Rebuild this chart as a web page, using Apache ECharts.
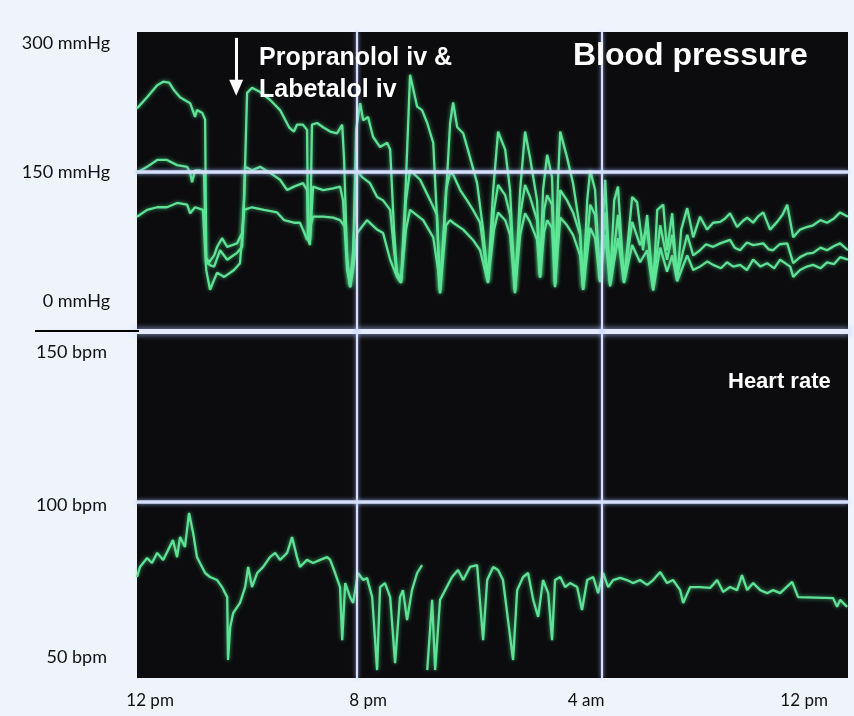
<!DOCTYPE html>
<html>
<head>
<meta charset="utf-8">
<script src="https://cdn.jsdelivr.net/npm/echarts@6/dist/echarts.min.js"></script>
<style>
  html, body { margin: 0; padding: 0; background: #eef3fc; }
  #chart { width: 854px; height: 716px; }
</style>
</head>
<body>
<div id="chart"></div>
<script>
// ---- axis ticks / labels ----
const tickHours = [0, 8, 16, 24];
const tickLabels = ['12 pm', '8 pm', '4 am', '12 pm'];
const bpTicks = [0, 150, 300];
const hrTicks = [50, 100, 150];
// monitor reference lines (as seen on the screen)
const monitorGridHours = [7.6, 16.59];
const bpGridLine = 150;
const hrGridLine = 101;
// drug administration marker (hours after 12 pm)
const drugTime = 3.16;

// ---- blood pressure (mmHg) [hours, value] ----
const systolic = [
  [-0.48,224],[-0.11,237],[0.26,251],[0.48,255],[0.70,254],[0.88,245],[1.10,237],[1.47,230],[1.65,214],[1.72,222],
  [1.91,219],[2.02,211],[2.06,50],[2.17,45],[2.35,53],[2.46,63],[2.64,73],[2.83,63],[3.01,65],[3.19,67],
  [3.38,79],[3.45,117],[3.56,242],[3.74,248],[4.04,243],[4.40,234],[4.77,222],[5.10,202],[5.28,197],[5.39,205],
  [5.61,205],[5.76,199],[5.80,71],[5.87,65],[5.94,205],[6.13,207],[6.35,202],[6.61,197],[6.86,195],[7.05,205],
  [7.12,164],[7.23,48],[7.34,16],[7.45,48],[7.56,199],[7.71,230],[7.82,210],[8.00,214],[8.18,191],[8.44,179],
  [8.70,184],[8.81,176],[8.95,83],[9.06,33],[9.21,24],[9.36,117],[9.54,263],[9.80,226],[9.98,222],[10.17,207],
  [10.39,184],[10.53,94],[10.64,9],[10.79,83],[11.01,207],[11.12,231],[11.27,202],[11.49,195],[11.74,167],[12.00,137],
  [12.22,83],[12.40,24],[12.59,129],[12.77,197],[13.03,176],[13.21,129],[13.39,9],[13.58,129],[13.76,197],[13.94,167],
  [14.20,117],[14.31,28],[14.42,129],[14.57,170],[14.75,144],[14.86,19],[14.97,141],[15.05,197],[15.30,167],[15.52,137],
  [15.78,83],[15.89,13],[16.04,117],[16.15,152],[16.33,129],[16.51,24],[16.70,141],[16.88,19],[17.03,117],[17.17,133],
  [17.39,22],[17.69,121],[17.87,115],[18.09,59],[18.24,100],[18.46,13],[18.61,106],[18.83,112],[18.97,59],[19.16,102],
  [19.34,24],[19.49,83],[19.71,108],[19.93,74],[20.18,98],[20.44,83],[20.66,91],[20.92,92],[21.10,96],[21.28,102],[21.54,86],
  [21.75,93],[21.91,97],[22.13,91],[22.30,98],[22.50,103],[22.75,83],[23.01,92],[23.20,100],[23.38,112],[23.60,74],[23.85,83],[24.10,86],[24.33,88],[24.60,94],[24.84,91],
  [25.10,96],[25.32,103],[25.61,98]
];
const meanBP = [
  [-0.48,149],[-0.11,156],[0.26,164],[0.62,164],[0.99,158],[1.36,156],[1.47,149],[1.54,138],[1.65,152],[1.83,152],
  [1.98,147],[2.06,45],[2.24,41],[2.35,40],[2.57,59],[2.83,48],[3.01,52],[3.19,56],[3.38,63],[3.49,156],
  [3.74,152],[4.04,156],[4.40,149],[4.77,141],[5.03,129],[5.28,133],[5.61,137],[5.76,129],[5.80,77],[5.87,71],
  [5.98,133],[6.35,129],[6.72,131],[6.97,133],[7.08,117],[7.23,36],[7.34,19],[7.45,59],[7.60,152],[7.78,144],
  [8.07,137],[8.33,121],[8.55,117],[8.81,106],[8.95,59],[9.06,30],[9.21,22],[9.39,117],[9.54,152],[9.91,141],
  [10.28,117],[10.53,100],[10.64,13],[10.86,129],[11.01,149],[11.12,147],[11.38,129],[11.63,117],[11.85,106],[12.11,91],
  [12.40,22],[12.62,106],[12.77,135],[13.03,123],[13.21,100],[13.39,13],[13.58,100],[13.76,135],[13.94,121],[14.20,94],
  [14.31,28],[14.46,106],[14.57,123],[14.75,112],[14.86,19],[15.05,129],[15.30,117],[15.52,103],[15.78,77],[15.89,15],
  [16.15,112],[16.33,100],[16.51,24],[16.70,103],[16.88,21],[17.17,100],[17.39,24],[17.69,92],[17.98,65],[18.24,83],
  [18.46,19],[18.72,88],[18.97,48],[19.16,77],[19.34,30],[19.71,77],[19.93,53],[20.18,59],[20.40,66],[20.66,63],[20.92,67],
  [21.28,71],[21.45,62],[21.65,59],[21.90,68],[22.13,65],[22.50,67],[22.70,60],[22.86,59],[23.10,66],[23.38,67],[23.60,44],[23.85,51],[24.10,55],[24.33,56],[24.60,62],[24.84,59],
  [25.10,64],[25.32,67],[25.61,59]
];
const diastolic = [
  [-0.48,98],[-0.11,106],[0.26,109],[0.62,109],[0.99,114],[1.36,112],[1.47,102],[1.65,109],[1.94,106],[2.06,36],
  [2.20,13],[2.46,33],[2.72,28],[3.08,36],[3.30,44],[3.45,106],[3.74,109],[4.18,106],[4.66,103],[4.92,94],
  [5.28,91],[5.50,91],[5.69,77],[5.76,71],[5.98,98],[6.35,98],[6.72,97],[6.97,94],[7.16,86],[7.27,36],
  [7.34,16],[7.45,36],[7.60,79],[7.96,94],[8.33,83],[8.55,79],[8.81,48],[9.06,28],[9.21,21],[9.39,83],
  [9.54,106],[10.02,94],[10.39,74],[10.57,36],[10.64,9],[10.86,88],[11.01,94],[11.12,91],[11.49,83],[11.85,71],
  [12.11,59],[12.40,21],[12.62,83],[12.77,103],[13.03,94],[13.21,77],[13.39,10],[13.58,77],[13.76,102],[13.94,92],
  [14.20,71],[14.31,27],[14.46,80],[14.57,94],[14.75,85],[14.86,16],[15.05,97],[15.30,88],[15.52,77],[15.78,53],
  [15.89,13],[16.15,85],[16.33,73],[16.51,22],[16.70,77],[16.88,17],[17.17,73],[17.39,21],[17.69,65],[17.98,45],
  [18.24,59],[18.46,12],[18.72,62],[18.97,34],[19.16,53],[19.34,23],[19.71,53],[19.93,36],[20.18,40],[20.45,46],[20.66,42],
  [20.95,38],[21.17,45],[21.40,40],[21.65,42],[21.90,36],[22.13,48],[22.40,40],[22.64,44],[22.90,38],[23.12,48],[23.49,40],[23.60,28],[23.85,36],[24.10,40],[24.33,42],[24.60,38],[24.84,45],
  [25.10,43],[25.32,51],[25.61,48]
];

// ---- heart rate (bpm) [hours, value]; null = gap in trace ----
const heartRate = [
  [-0.48,76.4],[-0.37,79.7],[-0.11,82.6],[0.07,81.0],[0.26,84.3],[0.48,82.0],[0.66,85.2],[0.84,88.5],[0.99,82.9],[1.10,89.5],
  [1.28,86.2],[1.43,97.4],[1.58,90.8],[1.72,82.9],[1.83,81.0],[2.02,77.7],[2.20,76.4],[2.46,75.4],[2.64,73.1],[2.83,69.8],
  [2.86,49.2],[2.94,60.0],[3.05,64.6],[3.30,67.9],[3.49,73.1],[3.60,79.7],[3.74,73.1],[3.93,77.7],[4.15,79.7],[4.40,82.9],
  [4.59,84.3],[4.77,82.0],[5.03,84.3],[5.21,89.5],[5.39,82.9],[5.50,79.7],[5.76,82.0],[5.98,81.0],[6.24,82.0],[6.50,82.9],
  [6.61,82.0],[6.79,77.7],[6.97,73.1],[7.05,55.7],[7.16,74.4],[7.34,69.8],[7.45,67.9],[7.63,77.7],[7.82,75.4],[7.96,76.1],
  [8.15,69.8],[8.33,45.9],[8.44,73.1],[8.62,74.4],[8.81,69.8],[8.99,48.2],[9.17,69.8],[9.28,72.1],[9.43,62.3],[9.61,72.1],
  [9.80,77.7],[9.98,80.3],[10.08,null],[10.17,45.9],[10.35,68.9],[10.46,45.9],[10.64,68.9],[11.08,76.4],[11.30,78.7],[11.49,75.4],
  [11.74,79.7],[12.00,80.3],[12.22,55.7],[12.37,75.4],[12.59,79.7],[12.77,78.7],[12.95,75.4],[13.32,49.2],[13.47,72.1],[13.69,76.4],
  [13.87,77.7],[14.06,68.9],[14.24,63.3],[14.42,75.4],[14.61,71.1],[14.75,55.7],[14.86,75.4],[15.05,76.4],[15.23,73.1],[15.41,74.4],
  [15.67,73.1],[15.85,65.6],[16.04,75.4],[16.26,76.4],[16.44,71.1],[16.62,77.7],[16.81,73.1],[16.99,75.4],[17.25,76.1],[17.50,75.4],
  [17.72,74.4],[17.98,75.4],[18.24,73.8],[18.46,75.4],[18.72,78.0],[18.97,74.4],[19.19,75.4],[19.45,72.1],[19.56,67.9],[19.82,73.1],
  [20.18,73.1],[20.55,72.8],[20.81,75.4],[21.03,71.5],[21.28,73.1],[21.54,72.1],[21.72,77.0],[21.91,72.1],[22.13,74.4],[22.39,72.1],
  [22.64,71.1],[22.86,72.1],[23.12,71.1],[23.56,74.8],[23.78,69.8],[25.06,69.5],[25.21,66.6],[25.32,68.9],[25.58,66.6]
];

const traceColor = '#5fe295';
const gridLineColor = '#d6e0fb';
const labelFont = 'Lato';

function trace(name, data, idx) {
  return {
    name: name, type: 'line', data: data, xAxisIndex: idx, yAxisIndex: idx,
    showSymbol: false, symbol: 'none', connectNulls: false, z: 3,
    lineStyle: { color: traceColor, width: 2.3, shadowColor: 'rgba(90,255,160,0.6)', shadowBlur: 4 },
    animation: false
  };
}

function refLines(idx, yValue) {
  const d = monitorGridHours.map(h => ({ xAxis: h, lineStyle: { width: 2.2 } }));
  d.push({ yAxis: yValue, lineStyle: { width: 3.5 } });
  return {
    type: 'line', data: [], xAxisIndex: idx, yAxisIndex: idx, z: 1, silent: true,
    markLine: {
      silent: true, symbol: ['none', 'none'], label: { show: false }, animation: false,
      lineStyle: { color: gridLineColor, type: 'solid', shadowColor: 'rgba(170,190,255,0.8)', shadowBlur: 4 },
      data: d
    }
  };
}

const chart = echarts.init(document.getElementById('chart'), null, { renderer: 'canvas' });
const xBase = {
  type: 'value', min: -0.48, max: 25.61,
  splitLine: { show: false }, axisTick: { show: false }
};

chart.setOption({
  backgroundColor: '#eef3fc',
  animation: false,
  title: [
    { text: 'Blood pressure', left: 573, top: 40, padding: 0,
      textStyle: { color: '#ffffff', fontSize: 32, fontWeight: 'bold', fontFamily: 'Liberation Sans' } },
    { text: 'Heart rate', left: 728, top: 371, padding: 0,
      textStyle: { color: '#ffffff', fontSize: 22, fontWeight: 'bold', fontFamily: 'Liberation Sans' } }
  ],
  grid: [
    { left: 137, right: 6, top: 32, height: 299, show: true, backgroundColor: '#0c0c0e', borderWidth: 0 },
    { left: 137, right: 6, top: 331, bottom: 38, show: true, backgroundColor: '#0c0c0e', borderWidth: 0 }
  ],
  xAxis: [
    Object.assign({}, xBase, { gridIndex: 0, position: 'bottom',
      axisLabel: { show: false },
      axisLine: { show: true, onZero: false, lineStyle: { color: '#e4ecfb', width: 5, shadowColor: 'rgba(180,200,255,0.9)', shadowBlur: 6 } } }),
    Object.assign({}, xBase, { gridIndex: 1, position: 'bottom',
      axisLine: { show: false },
      axisLabel: { customValues: tickHours, margin: 14, color: '#111', fontSize: 17, fontFamily: labelFont,
        formatter: v => tickLabels[tickHours.indexOf(v)] } })
  ],
  yAxis: [
    { type: 'value', gridIndex: 0, min: -34.9, max: 312.8,
      splitLine: { show: false }, axisLine: { show: false }, axisTick: { show: false },
      axisLabel: { customValues: bpTicks, margin: 27, color: '#111', fontSize: 18, fontFamily: labelFont,
        formatter: v => v + ' mmHg' } },
    { type: 'value', gridIndex: 1, min: 43.3, max: 157.0,
      splitLine: { show: false }, axisLine: { show: false }, axisTick: { show: false },
      axisLabel: { customValues: hrTicks, margin: 30, color: '#111', fontSize: 18, fontFamily: labelFont,
        formatter: v => v + ' bpm' } }
  ],
  graphic: [
    { type: 'line', shape: { x1: 35, y1: 331, x2: 139, y2: 331 }, style: { stroke: '#000', lineWidth: 2 }, z: 10 },
    { type: 'text', left: 259, top: 42, z: 10,
      style: { text: 'Propranolol iv &\nLabetalol iv', fill: '#ffffff', font: 'bold 25px "Liberation Sans"', lineHeight: 32 } }
  ],
  series: [
    refLines(0, bpGridLine),
    refLines(1, hrGridLine),
    trace('Systolic', systolic, 0),
    trace('Mean', meanBP, 0),
    trace('Diastolic', diastolic, 0),
    trace('Heart rate', heartRate, 1),
    {
      type: 'line', data: [], xAxisIndex: 0, yAxisIndex: 0, z: 5, silent: true,
      markLine: {
        silent: true, animation: false, symbol: ['none', 'triangle'], symbolSize: [14, 16], symbolRotate: 180,
        label: { show: false },
        lineStyle: { color: '#ffffff', width: 3, type: 'solid' },
        data: [[{ coord: [drugTime, 306] }, { coord: [drugTime, 248] }]]
      }
    }
  ]
});
</script>
</body>
</html>
